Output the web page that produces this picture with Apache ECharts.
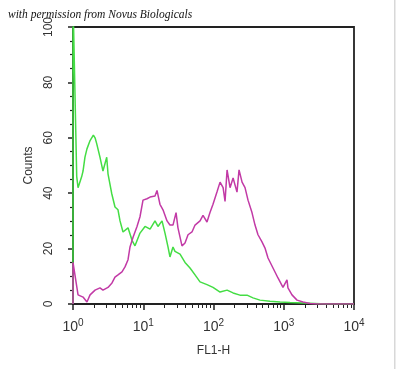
<!DOCTYPE html>
<html>
<head>
<meta charset="utf-8">
<script src="https://cdn.jsdelivr.net/npm/echarts@6/dist/echarts.min.js"></script>
<style>
html,body{margin:0;padding:0;background:#fff;}
#chart{width:400px;height:369px;}
</style>
</head>
<body>
<div id="chart"></div>
<script>
// FL1-H channel values (x) and counts (y)
var greenX = [1, 1, 1.13, 1.18, 1.33, 1.39, 1.48, 1.58, 1.75, 1.95, 2.06, 2.17, 2.42, 2.67, 3.02, 3.15, 3.55, 3.96, 4.37, 4.67, 5.15, 6.07, 6.92, 7.63, 8.99, 10.6, 12.5, 14.7, 16.2, 18.5, 20.4, 22.5, 24, 26.5, 28.3, 33.4, 39.3, 46.3, 54.6, 64.3, 80.8, 98.4, 124, 156, 190, 238, 300, 365, 459, 637, 885, 1227, 1879, 2786, 4000, 10000];
var greenY = [0, 110, 46, 42, 46, 48, 53, 56, 59, 61, 60, 58, 53, 48, 53, 47, 40, 35, 34, 30, 26, 27.5, 23, 21, 25.6, 28, 27, 30, 28, 30, 25.6, 20.6, 17, 20.6, 19, 18, 15, 13, 10.5, 8, 7, 6, 4.3, 5, 4, 3.2, 3.2, 2.2, 1.4, 1, 0.7, 0.5, 0.4, 0.2, 0, 0];
var magentaX = [1, 1, 1.18, 1.39, 1.58, 1.75, 2.06, 2.42, 2.67, 3.15, 3.59, 3.96, 4.37, 4.98, 5.5, 6.07, 6.48, 7.14, 8.15, 8.99, 9.92, 11.3, 12.5, 14.7, 15.7, 17.3, 19.1, 21.8, 24, 26.5, 29.3, 31.2, 35.6, 39.3, 43.4, 49.4, 54.6, 64.3, 70.9, 80.8, 89.1, 98.4, 112, 124, 137, 146, 156, 172, 190, 216, 231, 255, 281, 310, 353, 390, 430, 490, 541, 597, 703, 828, 975, 1112, 1148, 1310, 1545, 1879, 2365, 3000, 10000];
var magentaY = [0, 15, 3.3, 2.5, 0.7, 3.3, 5, 5.8, 5, 6, 7.6, 9.7, 10.5, 11.6, 13.4, 16, 20.6, 24, 28, 31.5, 37.5, 38, 38.6, 39, 41, 36, 34, 30, 28.5, 28.5, 33, 27.5, 21, 22, 25, 26, 28.5, 30, 32, 29.6, 33, 36, 40.4, 44, 42, 37, 48.4, 42, 45.5, 40.4, 48.4, 44, 42, 37.5, 33, 28.5, 25, 22.4, 20.2, 16.6, 13, 9.4, 6, 8.7, 5.8, 3.3, 1.4, 0.7, 0.2, 0, 0];
var yTicks = [0, 20, 40, 60, 80, 100];
var xTicks = [1, 10, 100, 1000, 10000];

function pairs(xs, ys){ return xs.map(function(x,i){ return [x, ys[i]]; }); }

var chart = echarts.init(document.getElementById('chart'), null, {renderer:'canvas'});
chart.setOption({
  animation:false,
  backgroundColor:'#ffffff',
  grid:{left:73, right:46, top:27, bottom:65, show:true, borderColor:'#222', borderWidth:1.8, backgroundColor:'transparent'},
  graphic:[
    {type:'text', left:8, top:9, style:{text:'with permission from Novus Biologicals', font:'italic 11.5px "Liberation Serif"', fill:'#111'}},
    {type:'rect', shape:{x:394, y:0, width:1.5, height:369}, style:{fill:'#d8d8d8'}, silent:true}
  ],
  xAxis:{
    type:'log', logBase:10, min:xTicks[0], max:xTicks[xTicks.length-1],
    name:'FL1-H', nameLocation:'middle', nameGap:41,
    nameTextStyle:{fontFamily:'Liberation Sans', fontSize:12, color:'#333'},
    axisLine:{show:true, lineStyle:{color:'#222', width:2}},
    axisTick:{show:true, inside:false, length:6, lineStyle:{color:'#222', width:1.5}},
    minorTick:{show:true, splitNumber:9, length:4, lineStyle:{color:'#222', width:1}},
    splitLine:{show:false}, minorSplitLine:{show:false},
    axisLabel:{
      margin:14,
      formatter:function(v){ var e = Math.round(Math.log10(v)); return '{b|10}{s|' + e + '}'; },
      rich:{
        b:{fontFamily:'Liberation Sans', fontSize:14, color:'#333'},
        s:{fontFamily:'Liberation Sans', fontSize:10, color:'#333', padding:[0,0,9,0]}
      }
    }
  },
  yAxis:{
    type:'value', min:yTicks[0], max:yTicks[yTicks.length-1], interval:20,
    name:'Counts', nameLocation:'middle', nameGap:31, nameRotate:90,
    nameTextStyle:{fontFamily:'Liberation Sans', fontSize:12, color:'#333'},
    axisLine:{show:true, lineStyle:{color:'#222', width:2}},
    axisTick:{show:true, inside:false, length:5, lineStyle:{color:'#222', width:1.5}},
    minorTick:{show:true, splitNumber:4, length:3, lineStyle:{color:'#222', width:1.2}},
    splitLine:{show:false},
    axisLabel:{rotate:90, margin:18, fontFamily:'Liberation Sans', fontSize:12, color:'#333'}
  },
  series:[
    {type:'line', data:pairs(greenX, greenY), showSymbol:false, symbol:'none', clip:true,
     lineStyle:{color:'#44dd44', width:1.5}, z:2},
    {type:'line', data:pairs(magentaX, magentaY), showSymbol:false, symbol:'none', clip:true,
     lineStyle:{color:'#c23aa6', width:1.5}, z:3}
  ]
});
</script>
</body>
</html>
